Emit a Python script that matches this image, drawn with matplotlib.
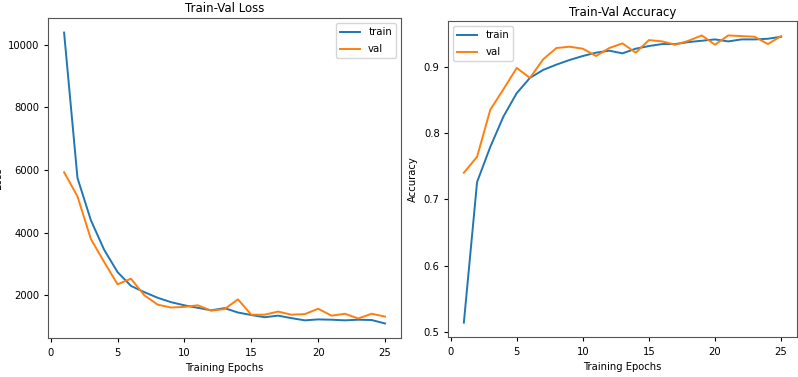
import matplotlib
matplotlib.use("Agg")
import matplotlib.pyplot as plt

epochs = list(range(1, 26))
train_loss = [10390, 5750, 4400, 3450, 2740, 2300, 2100, 1920, 1780, 1680,
              1600, 1520, 1590, 1450, 1370, 1300, 1350, 1270, 1200, 1230,
              1220, 1200, 1220, 1210, 1100]
val_loss = [5930, 5160, 3800, 3060, 2350, 2530, 2000, 1700, 1610, 1630,
            1680, 1510, 1560, 1870, 1380, 1380, 1480, 1380, 1400, 1570,
            1350, 1410, 1260, 1410, 1320]
train_acc = [0.514, 0.726, 0.779, 0.825, 0.860, 0.883, 0.895, 0.903, 0.910, 0.916,
             0.921, 0.924, 0.920, 0.927, 0.931, 0.934, 0.934, 0.937, 0.939, 0.941,
             0.938, 0.941, 0.941, 0.942, 0.945]
val_acc = [0.740, 0.764, 0.835, 0.866, 0.898, 0.883, 0.911, 0.928, 0.930, 0.927,
           0.916, 0.928, 0.935, 0.921, 0.940, 0.938, 0.933, 0.939, 0.947, 0.933,
           0.947, 0.946, 0.945, 0.934, 0.946]

fs = 7.2
lw = 1.4
fig = plt.figure(figsize=(7.98, 3.77), dpi=100)
ax1 = fig.add_axes([0.0602, 0.1034, 0.4424, 0.8488])
ax2 = fig.add_axes([0.5614, 0.1061, 0.4373, 0.8380])

ax1.plot(epochs, train_loss, label="train", lw=lw)
ax1.plot(epochs, val_loss, label="val", lw=lw)
ax1.set_title("Train-Val Loss", fontsize=8.5, pad=4)
ax1.set_xlabel("Training Epochs", fontsize=fs, labelpad=4)
ax1.set_ylabel("Loss", fontsize=fs)
ax1.legend(loc="upper right", fontsize=7.3, labelspacing=0.7)

ax2.plot(epochs, train_acc, label="train", lw=lw)
ax2.plot(epochs, val_acc, label="val", lw=lw)
ax2.set_title("Train-Val Accuracy", fontsize=8.5, pad=4)
ax2.set_xlabel("Training Epochs", fontsize=fs, labelpad=4)
ax2.set_ylabel("Accuracy", fontsize=fs)
ax2.legend(loc="upper left", fontsize=7.3, labelspacing=0.7)

for ax in (ax1, ax2):
    ax.tick_params(labelsize=fs, length=3)
    ax.tick_params(axis="x", pad=4)
    ax.tick_params(axis="y", pad=3)
    ax.set_xticks([0, 5, 10, 15, 20, 25])
    for s in ax.spines.values():
        s.set_edgecolor("#555555")
ax2.set_yticks([0.5, 0.6, 0.7, 0.8, 0.9])

fig.savefig("out.png", dpi=100)
